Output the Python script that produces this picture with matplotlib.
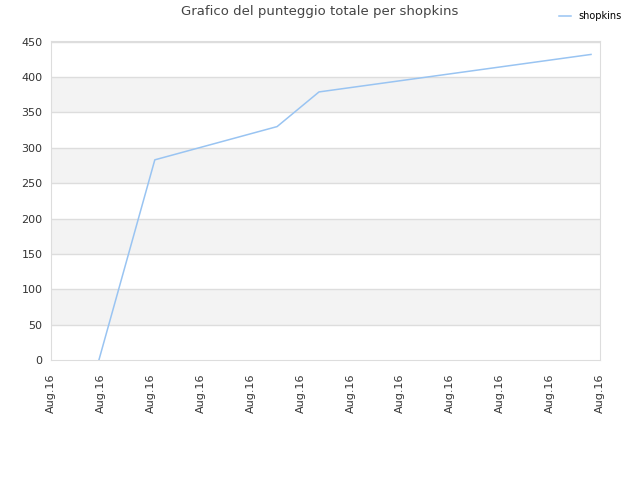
import matplotlib
matplotlib.use("Agg")
import matplotlib.pyplot as plt

# data
x_pos = [0.96, 2.08, 4.53, 5.37, 10.82]
scores = [0, 283, 330, 379, 432]
tick_pos = list(range(12))
tick_labels = ["Aug.16"] * 12
series_name = "shopkins"

fig = plt.figure(figsize=(6.4, 4.8), dpi=100)
ax = fig.add_axes([51 / 640, 1 - 360 / 480, 549 / 640, 319 / 480])

ax.set_xlim(0, 11)
ax.set_ylim(0, 451)

# alternating bands
for lo in range(50, 450, 100):
    ax.axhspan(lo, lo + 50, color="#f3f3f3", zorder=0, lw=0)
for y in range(50, 451, 50):
    ax.axhline(y, color="#dddddd", lw=1, zorder=1)

ax.plot(x_pos, scores, color="#99c4f2", lw=1.1, zorder=3, label=series_name)

ax.set_yticks(range(0, 451, 50))
ax.set_xticks(tick_pos)
ax.set_xticklabels(tick_labels, rotation=90)
ax.tick_params(length=0, labelsize=8, colors="#333333", pad=6)
ax.tick_params(axis="x", pad=10)
for s in ax.spines.values():
    s.set_color("#dddddd")

fig.text(0.5, 1 - 12 / 480, "Grafico del punteggio totale per shopkins",
         ha="center", va="center", fontsize=9.5, color="#444444")
fig.legend(loc="upper right", bbox_to_anchor=(0.985, 0.995), frameon=False,
           fontsize=7, handlelength=1.2, handletextpad=0.8)

fig.savefig("out.png", dpi=100)
